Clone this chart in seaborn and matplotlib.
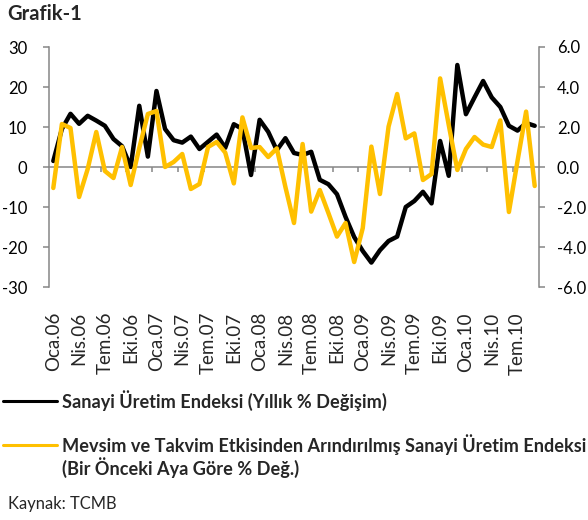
import numpy as np
import pandas as pd
import matplotlib
matplotlib.use("Agg")
import matplotlib.pyplot as plt
from matplotlib.lines import Line2D
import seaborn as sns

# ---- data ----
tick_labels = ["Oca.06", "Nis.06", "Tem.06", "Eki.06",
               "Oca.07", "Nis.07", "Tem.07", "Eki.07",
               "Oca.08", "Nis.08", "Tem.08", "Eki.08",
               "Oca.09", "Nis.09", "Tem.09", "Eki.09",
               "Oca.10", "Nis.10", "Tem.10"]

# Sanayi Üretim Endeksi (Yıllık % Değişim) - left axis, Jan 2006 .. Sep 2010
annual_change = [1.5, 9.5, 13.3, 10.8, 12.8, 11.6, 10.3, 7.0, 5.2, 0.0,
                 15.3, 2.6, 19.0, 9.5, 6.7, 6.1, 7.6, 4.5, 6.3, 8.1,
                 4.8, 10.7, 9.5, -2.0, 11.8, 8.8, 4.2, 7.2, 3.5, 3.0,
                 3.8, -3.2, -4.3, -6.8, -12.5, -17.5, -21.0, -23.9, -20.8, -18.5,
                 -17.4, -10.0, -8.5, -6.2, -9.1, 6.5, -2.2, 25.5, 13.2, 17.4,
                 21.5, 17.4, 15.0, 10.3, 9.1, 11.0, 10.3]

# Mevsim ve takvim etkisinden arındırılmış (Bir önceki aya göre % değ.) - right axis
monthly_change = [-1.05, 2.15, 1.95, -1.5, -0.1, 1.75, -0.2, -0.55, 1.0, -0.9,
                  0.95, 2.65, 2.8, 0.0, 0.25, 0.65, -1.1, -0.85, 1.0, 1.25,
                  0.72, -0.82, 2.48, 0.95, 1.0, 0.5, 0.93, -1.0, -2.8, 1.15,
                  -2.23, -1.15, -2.3, -3.48, -2.8, -4.75, -3.05, 1.02, -1.35, 2.02,
                  3.65, 1.43, 1.68, -0.65, -0.35, 4.43, 2.1, -0.15, 0.9, 1.5,
                  1.12, 1.0, 2.33, -2.25, 0.3, 2.77, -0.95]

left_ticks = [-30, -20, -10, 0, 10, 20, 30]
right_ticks = [-6.0, -4.0, -2.0, 0.0, 2.0, 4.0, 6.0]

legend_black = "Sanayi Üretim Endeksi (Yıllık % Değişim)"
legend_yellow = "Mevsim ve Takvim Etkisinden Arındırılmış Sanayi Üretim Endeksi\n(Bir Önceki Aya Göre % Değ.)"
title = "Grafik-1"
source = "Kaynak: TCMB"

# ---- style ----
sns.set_style("white")
plt.rcParams["font.family"] = ["Lato", "DejaVu Sans"]

GRAY = "#868686"
YELLOW = "#FFC000"
W, H = 588, 520

df = pd.DataFrame({"m": np.arange(len(annual_change)),
                   "annual": annual_change,
                   "monthly": monthly_change})

fig = plt.figure(figsize=(W / 100, H / 100), dpi=100)
ax = fig.add_axes([49 / W, 1 - 287 / H, 490 / W, 240 / H])
ax2 = ax.twinx()

sns.lineplot(data=df, x="m", y="annual", ax=ax, color="black", lw=3.2,
             solid_joinstyle="round", solid_capstyle="round")
sns.lineplot(data=df, x="m", y="monthly", ax=ax2, color=YELLOW, lw=3.2,
             solid_joinstyle="round", solid_capstyle="round")

n = len(df)
ax.set_xlim(-0.5, n - 0.5)
ax.set_ylim(left_ticks[0], left_ticks[-1])
ax2.set_ylim(right_ticks[0], right_ticks[-1])

for a in (ax, ax2):
    a.set_xlabel("")
    a.set_ylabel("")
    a.grid(False)
    for s in ("top", "bottom"):
        a.spines[s].set_visible(False)
    a.patch.set_visible(False)

ax.spines["left"].set_color(GRAY)
ax.spines["left"].set_linewidth(1.1)
ax.spines["right"].set_visible(False)
ax2.spines["left"].set_visible(False)
ax2.spines["right"].set_color(GRAY)
ax2.spines["right"].set_linewidth(1.1)

ax.set_yticks(left_ticks)
ax.set_yticklabels([str(t) for t in left_ticks])
ax2.set_yticks(right_ticks)
ax2.set_yticklabels([f"{t:.1f}" for t in right_ticks])
ax.tick_params(axis="y", which="both", left=True, length=4.3, width=1.1,
               color=GRAY, pad=11.5, labelsize=12, labelcolor="black")
ax2.tick_params(axis="y", which="both", right=True, length=4.3, width=1.1,
                color=GRAY, pad=8.5, labelsize=12, labelcolor="black")

# category labels below the plot
ax.set_xticks(np.arange(0, n, 3))
ax.set_xticklabels(tick_labels, rotation=90, fontsize=13.5)
ax.tick_params(axis="x", bottom=True, length=0, pad=18)

# zero line with tick marks (axis crossing at 0)
zx = ax.secondary_xaxis(0.5)
zx.set_alignment("bottom")
zx.set_xticks(np.arange(2.5, n - 1, 3))
zx.set_xticklabels([])
zx.tick_params(axis="x", which="both", direction="out", length=3.6,
               width=1.1, color=GRAY)
zx.spines["bottom"].set_visible(True)
zx.spines["bottom"].set_color(GRAY)
zx.spines["bottom"].set_linewidth(1.1)
for s in ("top", "left", "right"):
    zx.spines[s].set_visible(False)
ax.set_zorder(1)
ax2.set_zorder(2)

# title
fig.text(7 / W, 1 - 14 / H, title, fontsize=14.5, fontweight="bold",
         ha="left", va="center")

# manual legend
fig.add_artist(Line2D([3 / W, 57 / W], [1 - 401 / H, 1 - 401 / H],
                      color="black", lw=2.2, transform=fig.transFigure))
fig.text(62 / W, 1 - 401 / H, legend_black, fontsize=13.1, fontweight="bold",
         ha="left", va="center")
fig.add_artist(Line2D([3 / W, 57 / W], [1 - 445 / H, 1 - 445 / H],
                      color=YELLOW, lw=2.2, transform=fig.transFigure))
fig.text(62 / W, 1 - 456 / H, legend_yellow, fontsize=13.1, fontweight="bold",
         ha="left", va="center", linespacing=1.15)

fig.text(8 / W, 1 - 504 / H, source, fontsize=11.9, ha="left", va="center")

fig.savefig("out.png", dpi=100)
